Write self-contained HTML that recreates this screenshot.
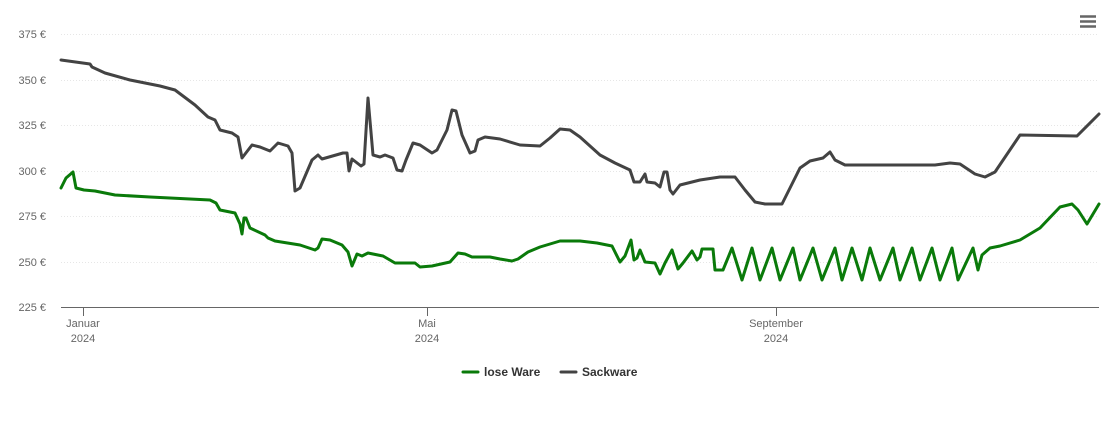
<!DOCTYPE html>
<html><head><meta charset="utf-8"><style>
body{margin:0;background:#fff;}
svg{display:block;font-family:"Liberation Sans",sans-serif;}
</style></head><body>
<svg width="1110" height="422" viewBox="0 0 1110 422">
<g stroke="#e6e6e6" stroke-dasharray="1,2" stroke-width="1">
<line x1="61" x2="1099" y1="34.5" y2="34.5"/>
<line x1="61" x2="1099" y1="80.5" y2="80.5"/>
<line x1="61" x2="1099" y1="125.5" y2="125.5"/>
<line x1="61" x2="1099" y1="171.5" y2="171.5"/>
<line x1="61" x2="1099" y1="216.5" y2="216.5"/>
<line x1="61" x2="1099" y1="262.5" y2="262.5"/>
</g>
<line x1="61" x2="1099" y1="307.5" y2="307.5" stroke="#666" stroke-width="1"/>
<g stroke="#666"><line x1="83.5" x2="83.5" y1="307" y2="316"/><line x1="427.5" x2="427.5" y1="307" y2="316"/><line x1="776.5" x2="776.5" y1="307" y2="316"/></g>
<g font-size="11" fill="#666" text-anchor="end">
<text x="46" y="38">375 €</text><text x="46" y="84">350 €</text><text x="46" y="129">325 €</text>
<text x="46" y="175">300 €</text><text x="46" y="220">275 €</text><text x="46" y="266">250 €</text><text x="46" y="311">225 €</text>
</g>
<g font-size="11" fill="#666" text-anchor="middle">
<text x="83" y="327">Januar</text><text x="83" y="342">2024</text>
<text x="427" y="327">Mai</text><text x="427" y="342">2024</text>
<text x="776" y="327">September</text><text x="776" y="342">2024</text>
</g>
<polyline fill="none" stroke="#434343" stroke-width="3" stroke-linejoin="round" stroke-linecap="round" points="61,60 90,64 92,67 105,73 130,80 160,86 175,90 195,105 208,117 215,120 220,130 232,133 238,137 242,158 252,145 260,147 270,151 278,143 288,146 292,153 295,191 300,188 312,160 318,155 322,159 343,153 347,153 349,171 352,159 361,166 364,164 368,98 373,155 380,157 385,155 393,158 397,170 402,171 406,160 413,143 420,145 432,153 437,150 447,130 452,110 456,111 462,135 470,153 475,151 478,140 485,137 500,139 520,145 540,146 550,138 560,129 570,130 580,137 600,155 615,163 630,170 634,182 640,182 645,174 647,182 655,183 660,187 664,172 667,172 670,190 673,194 680,185 700,180 720,177 735,177 745,190 755,202 765,204 782,204 790,188 800,168 810,161 823,158 830,152 835,160 845,165 900,165 935,165 950,163 960,164 975,174 985,177 995,172 1020,135 1077,136 1099,114"/>
<polyline fill="none" stroke="#0a7a0a" stroke-width="3" stroke-linejoin="round" stroke-linecap="round" points="61,188 66,178 73,172 76,188 84,190 95,191 115,195 150,197 210,200 216,203 220,210 230,212 235,213 240,224 242,234 244,218 246,218 250,228 265,235 268,238 275,241 300,245 315,250 318,248 322,239 330,240 342,245 348,252 352,266 357,254 362,256 368,253 383,256 395,263 415,263 420,267 432,266 450,262 458,253 465,254 472,257 490,257 500,259 512,261 518,259 528,252 540,247 560,241 580,241 597,243 612,246 620,262 625,256 631,240 634,260 637,258 640,250 645,262 655,263 660,274 665,263 672,250 678,269 683,263 692,251 697,260 700,257 702,249 713,249 715,270 723,270 732,248 742,280 752,248 760,280 772,248 780,280 793,248 800,280 813,248 822,280 835,248 842,280 852,248 862,280 870,248 880,280 893,248 900,280 912,248 920,280 932,248 940,280 952,248 958,280 973,248 978,270 982,255 990,248 1000,246 1020,240 1040,228 1060,207 1072,204 1078,210 1087,224 1099,204"/>
<line x1="463" x2="478" y1="372" y2="372" stroke="#0a7a0a" stroke-width="3" stroke-linecap="round"/>
<text x="484" y="376" font-size="12" font-weight="bold" fill="#333">lose Ware</text>
<line x1="561" x2="576" y1="372" y2="372" stroke="#434343" stroke-width="3" stroke-linecap="round"/>
<text x="582" y="376" font-size="12" font-weight="bold" fill="#333">Sackware</text>
<g stroke="#666" stroke-width="2.5"><line x1="1080" x2="1096" y1="16.5" y2="16.5"/><line x1="1080" x2="1096" y1="21.5" y2="21.5"/><line x1="1080" x2="1096" y1="26.5" y2="26.5"/></g>
</svg>
</body></html>
